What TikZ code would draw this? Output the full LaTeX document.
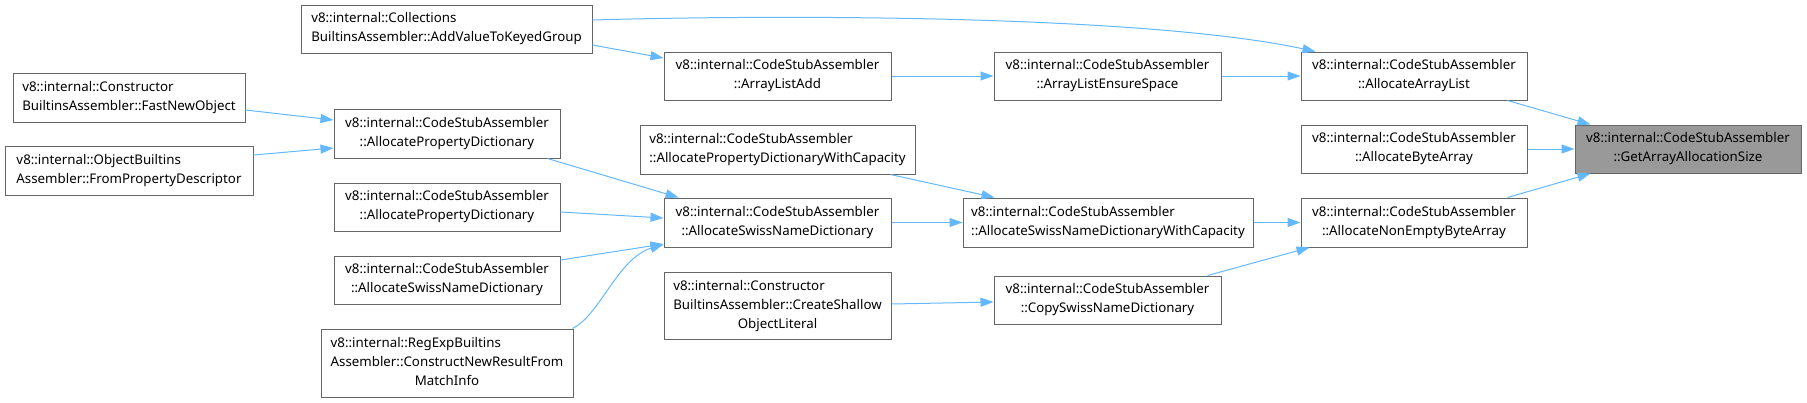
\documentclass[tikz,border=0pt]{standalone}
\usepackage{fontspec}
\setmainfont{Noto Sans}
\usetikzlibrary{arrows.meta}
\definecolor{edgeblue}{HTML}{63B8FF}
\definecolor{boxgray}{HTML}{666666}
\definecolor{hlgray}{HTML}{999999}
\newcommand\dfont{\fontsize{13.3}{19}\selectfont}
\begin{document}
\begin{tikzpicture}[x=1pt,y=-1pt,
  fbox/.style={draw=boxgray, line width=1pt, fill=white, inner sep=0pt, font=\dfont, text=black, align=center, minimum width=226pt, minimum height=48pt},
  lbox/.style={fbox, align=left},
  hbox/.style={fbox, fill=hlgray},
  edge/.style={draw=edgeblue, line width=1pt, -{Triangle[length=13pt,width=9pt]}}
]
\useasboundingbox (0,0) rectangle (1807,402);

\node[lbox, minimum width=291pt] (AVKG) at (446.5,29) {v8::internal::Collections\\BuiltinsAssembler::AddValueToKeyedGroup};
\node[lbox, minimum width=232pt, minimum height=49pt] (FNO) at (129,97.5) {v8::internal::Constructor\\BuiltinsAssembler::FastNewObject};
\node[lbox, minimum width=248pt, minimum height=49pt] (FPD) at (129,170.5) {v8::internal::ObjectBuiltins\\Assembler::FromPropertyDescriptor};
\node[fbox, minimum height=49pt] (APD1) at (447,133.5) {v8::internal::CodeStubAssembler\\::AllocatePropertyDictionary};
\node[fbox] (APD2) at (447,207) {v8::internal::CodeStubAssembler\\::AllocatePropertyDictionary};
\node[fbox] (ASNDL) at (447,280) {v8::internal::CodeStubAssembler\\::AllocateSwissNameDictionary};
\node[fbox, minimum width=252pt, minimum height=68pt] (CNR) at (447,363) {\begin{tabular}{@{}l@{}}v8::internal::RegExpBuiltins\\Assembler::ConstructNewResultFrom\\\multicolumn{1}{@{}c@{}}{MatchInfo}\end{tabular}};
\node[fbox, minimum width=227pt] (ALA) at (777.5,76) {v8::internal::CodeStubAssembler\\::ArrayListAdd};
\node[lbox, minimum width=275pt, minimum height=49pt] (APDWC) at (777.5,149.5) {v8::internal::CodeStubAssembler\\::AllocatePropertyDictionaryWithCapacity};
\node[fbox, minimum width=227pt, minimum height=49pt] (ASNDM) at (777.5,222.5) {v8::internal::CodeStubAssembler\\::AllocateSwissNameDictionary};
\node[fbox, minimum width=227pt, minimum height=67pt] (CSOL) at (777.5,305.5) {\begin{tabular}{@{}l@{}}v8::internal::Constructor\\BuiltinsAssembler::CreateShallow\\\multicolumn{1}{@{}c@{}}{ObjectLiteral}\end{tabular}};
\node[fbox, minimum width=227pt] (ALES) at (1107.5,76) {v8::internal::CodeStubAssembler\\::ArrayListEnsureSpace};
\node[lbox, minimum width=290pt, minimum height=49pt] (ASNDWC) at (1108,222.5) {v8::internal::CodeStubAssembler\\::AllocateSwissNameDictionaryWithCapacity};
\node[fbox, minimum width=227pt] (CSND) at (1107.5,300) {v8::internal::CodeStubAssembler\\::CopySwissNameDictionary};
\node[fbox] (AAL) at (1414,76) {v8::internal::CodeStubAssembler\\::AllocateArrayList};
\node[fbox] (ABA) at (1414,149) {v8::internal::CodeStubAssembler\\::AllocateByteArray};
\node[fbox, minimum height=49pt] (ANEBA) at (1414,222.5) {v8::internal::CodeStubAssembler\\::AllocateNonEmptyByteArray};
\node[hbox] (GAAS) at (1688,149) {v8::internal::CodeStubAssembler\\::GetArrayAllocationSize};

% edges
\draw[edge] ([yshift=9pt]AVKG.east) .. controls (800,14) and (1150,16) .. ([xshift=15pt]AAL.north west);
\draw[edge] ([yshift=-16pt]AVKG.east) -- ([yshift=18pt]ALA.west);
\draw[edge] (ALA.east) -- (ALES.west);
\draw[edge] (ALES.east) -- (AAL.west);
\draw[edge] ([xshift=-20pt]AAL.south east) -- ([xshift=16pt]GAAS.north west);
\draw[edge] (ABA.east) -- (GAAS.west);
\draw[edge] ([xshift=-20pt]ANEBA.north east) -- ([xshift=16pt]GAAS.south west);
\draw[edge] ([yshift=-12.5pt]FNO.east) -- ([yshift=13.5pt]APD1.west);
\draw[edge] ([yshift=15.5pt]FPD.east) -- ([yshift=-14.5pt]APD1.west);
\draw[edge] ([xshift=-13pt]APD1.south east) -- ([xshift=15pt]ASNDM.north west);
\draw[edge] ([yshift=-5pt]APD2.east) -- ([yshift=4.5pt]ASNDM.west);
\draw[edge] ([yshift=20pt]ASNDL.east) -- ([yshift=-21.5pt]ASNDM.west);
\draw[edge] ([xshift=-1pt]CNR.north east) .. controls (600,315) and (618,258) .. ([yshift=-22pt]ASNDM.west);
\draw[edge] ([xshift=-25pt]APDWC.south east) -- ([xshift=32pt]ASNDWC.north west);
\draw[edge] (ASNDM.east) -- (ASNDWC.west);
\draw[edge] ([yshift=1.5pt]CSOL.east) -- ([yshift=-2pt]CSND.west);
\draw[edge] (ASNDWC.east) -- (ANEBA.west);
\draw[edge] ([xshift=-14pt]CSND.north east) -- ([xshift=9pt]ANEBA.south west);
\end{tikzpicture}
\end{document}
